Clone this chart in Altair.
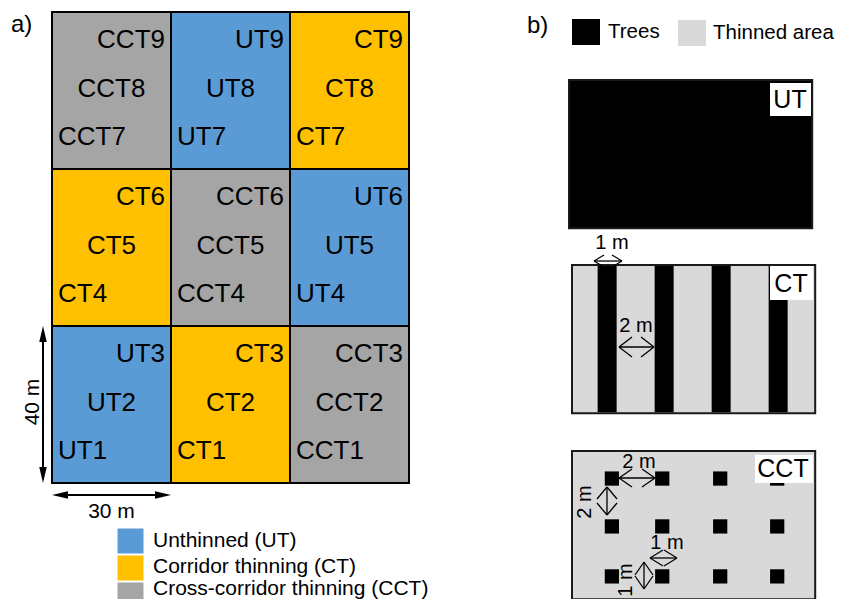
import altair as alt
import pandas as pd

# ---------------- data ----------------
# Panel a: 3 x 3 layout of plots (rows listed top to bottom)
plot_treatments = ["CCT", "UT", "CT",
                   "CT", "CCT", "UT",
                   "UT", "CT", "CCT"]
plot_numbers = [(7, 8, 9), (7, 8, 9), (7, 8, 9),
                (4, 5, 6), (4, 5, 6), (4, 5, 6),
                (1, 2, 3), (1, 2, 3), (1, 2, 3)]
plot_width_m = 30
plot_height_m = 40
treatment_keys = ["UT", "CT", "CCT"]
treatment_names = ["Unthinned (UT)", "Corridor thinning (CT)", "Cross-corridor thinning (CCT)"]
treatment_colors = ["#5B9BD5", "#FFC000", "#A5A5A5"]

# Panel b: thinning patterns (metres inside each 12.8 m x 7.8 m sketch)
pattern_names = ["UT", "CT", "CCT"]
pattern_legend = ["Trees", "Thinned area"]
pattern_colors = ["#000000", "#D9D9D9"]
ct_stripe_left_m = [1.35, 4.35, 7.35, 10.35]
ct_stripe_width_m = 1.0
cct_tree_x_m = [2.1, 4.75, 7.8, 10.8]
cct_tree_y_m = [1.45, 3.97, 6.6]
cct_tree_size_m = 0.75
dim_labels = ["1 m", "2 m", "2 m", "2 m", "1 m", "1 m"]

# ---------------- layout (page pixels) ----------------
FONT = "Liberation Sans"
A_X0, A_Y0 = 52, 12
SX = 357 / 90.0
SY = 471 / 120.0
B_PX_M = 19.0
B_W_M, B_H_M = 12.8, 7.8
B_BOXES = {"UT": (569, 80), "CT": (572, 265), "CCT": (572, 451)}
B_TAGS = {"UT": (770, 83, 811, 116, 790, 100),
          "CT": (770, 266, 813, 300, 791, 284),
          "CCT": (755, 455, 813, 483, 783, 469)}

XS = alt.Scale(domain=[8, 836], nice=False, zero=False)
YS = alt.Scale(domain=[8, 599], nice=False, zero=False, reverse=True)


def enc(**extra):
    e = dict(x=alt.X("x:Q", scale=XS, axis=None), y=alt.Y("y:Q", scale=YS, axis=None))
    e.update(extra)
    return e


def rects(df, **mk):
    return alt.Chart(df).mark_rect(**mk).encode(
        **enc(x2="x2:Q", y2="y2:Q", fill=alt.Fill("fill:N", scale=None)))


def texts(df, size, align="center", angle=0, color="#000000"):
    return alt.Chart(df).mark_text(font=FONT, fontSize=size, align=align, baseline="middle",
                                   angle=angle, color=color).encode(**enc(text="t:N"))


def segs(df, width):
    return alt.Chart(df).mark_rule(color="#000000", strokeWidth=width).encode(
        **enc(x2="x2:Q", y2="y2:Q"))


layers = []
color_of = dict(zip(treatment_keys, treatment_colors))

# ---- Panel a cells ----
cell_rows, lab_r, lab_c, lab_l = [], [], [], []
for i, (t, nums) in enumerate(zip(plot_treatments, plot_numbers)):
    r, c = divmod(i, 3)
    x0 = A_X0 + c * plot_width_m * SX
    x1 = x0 + plot_width_m * SX
    y0 = A_Y0 + r * plot_height_m * SY
    y1 = y0 + plot_height_m * SY
    cell_rows.append(dict(x=x0, x2=x1, y=y0, y2=y1, fill=color_of[t]))
    lab_r.append(dict(x=x1 - 6, y=y0 + 28, t=f"{t}{nums[2]}"))
    lab_c.append(dict(x=(x0 + x1) / 2, y=y0 + 76.5, t=f"{t}{nums[1]}"))
    lab_l.append(dict(x=x0 + 6, y=y0 + 125, t=f"{t}{nums[0]}"))
layers.append(rects(pd.DataFrame(cell_rows), stroke="#000000", strokeWidth=2))
layers.append(texts(pd.DataFrame(lab_r), 26, "right"))
layers.append(texts(pd.DataFrame(lab_c), 26, "center"))
layers.append(texts(pd.DataFrame(lab_l), 26, "left"))

# ---- Panel a dimension arrows ----
gx1 = A_X0 + plot_width_m * SX
gy_bot = A_Y0 + 3 * plot_height_m * SY
gy_top = gy_bot - plot_height_m * SY
layers.append(segs(pd.DataFrame([
    dict(x=43, y=gy_top + 8, x2=43, y2=gy_bot - 8),
    dict(x=A_X0 + 8, y=495, x2=gx1 - 8, y2=495)]), 2))
heads = pd.DataFrame([
    dict(x=43, y=gy_top + 8, s="M0,-1L0.47,1L-0.47,1Z"),
    dict(x=43, y=gy_bot - 8, s="M0,1L0.47,-1L-0.47,-1Z"),
    dict(x=A_X0 + 8, y=495, s="M-1,0L1,-0.47L1,0.47Z"),
    dict(x=gx1 - 8, y=495, s="M1,0L-1,-0.47L-1,0.47Z")])
layers.append(alt.Chart(heads).mark_point(filled=True, size=256, color="#000000", opacity=1,
                                          strokeWidth=0).encode(
    **enc(shape=alt.Shape("s:N", scale=None))))
layers.append(texts(pd.DataFrame([dict(x=33, y=402, t=f"{plot_height_m} m")]), 21, angle=270))
layers.append(texts(pd.DataFrame([dict(x=(A_X0 + gx1) / 2, y=512, t=f"{plot_width_m} m")]), 21))

# ---- Panel a legend ----
leg_y = [528, 555, 582]
layers.append(rects(pd.DataFrame([dict(x=117, x2=144, y=y, y2=y + 26, fill=c)
                                   for y, c in zip(leg_y, treatment_colors)]),
                    stroke="#FFFFFF", strokeWidth=1))
leg_text_y = [541, 567, 589]
layers.append(texts(pd.DataFrame([dict(x=153, y=y, t=n)
                                   for y, n in zip(leg_text_y, treatment_names)]), 21, "left"))

# ---- Panel labels ----
layers.append(texts(pd.DataFrame([dict(x=11, y=25, t="a)"), dict(x=527, y=26, t="b)")]), 24, "left"))

# ---- Panel b legend ----
layers.append(rects(pd.DataFrame([dict(x=572, x2=600, y=19, y2=45, fill=pattern_colors[0]),
                                   dict(x=678, x2=706, y=20, y2=46, fill=pattern_colors[1])])))
layers.append(texts(pd.DataFrame([dict(x=608, y=32, t=pattern_legend[0]),
                                  dict(x=713, y=33, t=pattern_legend[1])]), 20.5, "left"))

# ---- Panel b sketches ----
frames, inner = [], []
for name in pattern_names:
    bx, by = B_BOXES[name]
    bw, bh = B_W_M * B_PX_M, B_H_M * B_PX_M
    bg = pattern_colors[0] if name == "UT" else pattern_colors[1]
    frames.append(dict(x=bx, x2=bx + bw, y=by, y2=by + bh, fill=bg))
    if name == "CT":
        for s in ct_stripe_left_m:
            inner.append(dict(x=bx + s * B_PX_M, x2=bx + (s + ct_stripe_width_m) * B_PX_M,
                              y=by + 1, y2=by + bh - 1, fill=pattern_colors[0]))
    if name == "CCT":
        h = cct_tree_size_m * B_PX_M / 2
        for ty in cct_tree_y_m:
            for tx in cct_tree_x_m:
                cx, cy = bx + tx * B_PX_M, by + ty * B_PX_M
                inner.append(dict(x=cx - h, x2=cx + h, y=cy - h, y2=cy + h, fill=pattern_colors[0]))
layers.append(rects(pd.DataFrame(frames), stroke="#1a1a1a", strokeWidth=2))
layers.append(rects(pd.DataFrame(inner)))
tags = pd.DataFrame([dict(x=v[0], x2=v[2], y=v[1], y2=v[3], fill="#FFFFFF") for v in B_TAGS.values()])
layers.append(rects(tags))
layers.append(texts(pd.DataFrame([dict(x=v[4], y=v[5], t=k) for k, v in B_TAGS.items()]), 25))

# ---- Panel b dimension arrows (open heads) ----
arrows = [  # (x1, y1, x2, y2, head length, head half-width)
    (594, 261, 622, 261, 10, 6),
    (619, 347, 654, 347, 13, 10),
    (619, 478, 655, 478, 13, 9),
    (607, 487, 607, 515, 12, 10),
    (650, 558, 677, 558, 13, 8),
    (644, 562, 644, 589, 13, 9),
]
seg_rows = []
for (x1, y1, x2, y2, hl, hw) in arrows:
    seg_rows.append(dict(x=x1, y=y1, x2=x2, y2=y2))
    if y1 == y2:
        seg_rows += [dict(x=x1, y=y1, x2=x1 + hl, y2=y1 - hw), dict(x=x1, y=y1, x2=x1 + hl, y2=y1 + hw),
                     dict(x=x2, y=y2, x2=x2 - hl, y2=y2 - hw), dict(x=x2, y=y2, x2=x2 - hl, y2=y2 + hw)]
    else:
        seg_rows += [dict(x=x1, y=y1, x2=x1 - hw, y2=y1 + hl), dict(x=x1, y=y1, x2=x1 + hw, y2=y1 + hl),
                     dict(x=x2, y=y2, x2=x2 - hw, y2=y2 - hl), dict(x=x2, y=y2, x2=x2 + hw, y2=y2 - hl)]
layers.append(segs(pd.DataFrame(seg_rows), 1.3))
dim_pos = [(612, 243, 0), (636, 326, 0), (639, 462, 0), (585, 502, 270), (667, 543, 0), (626, 580, 270)]
layers.append(texts(pd.DataFrame([dict(x=p[0], y=p[1], t=l) for p, l in zip(dim_pos, dim_labels) if p[2] == 0]), 20))
layers.append(texts(pd.DataFrame([dict(x=p[0], y=p[1], t=l) for p, l in zip(dim_pos, dim_labels) if p[2] == 270]),
                    20, angle=270))

chart = alt.layer(*layers).properties(
    width=828, height=591, padding=0, autosize="none"
).configure_view(stroke=None, strokeWidth=0)

chart.save("out.html", embed_options={"renderer": "svg", "actions": False})
